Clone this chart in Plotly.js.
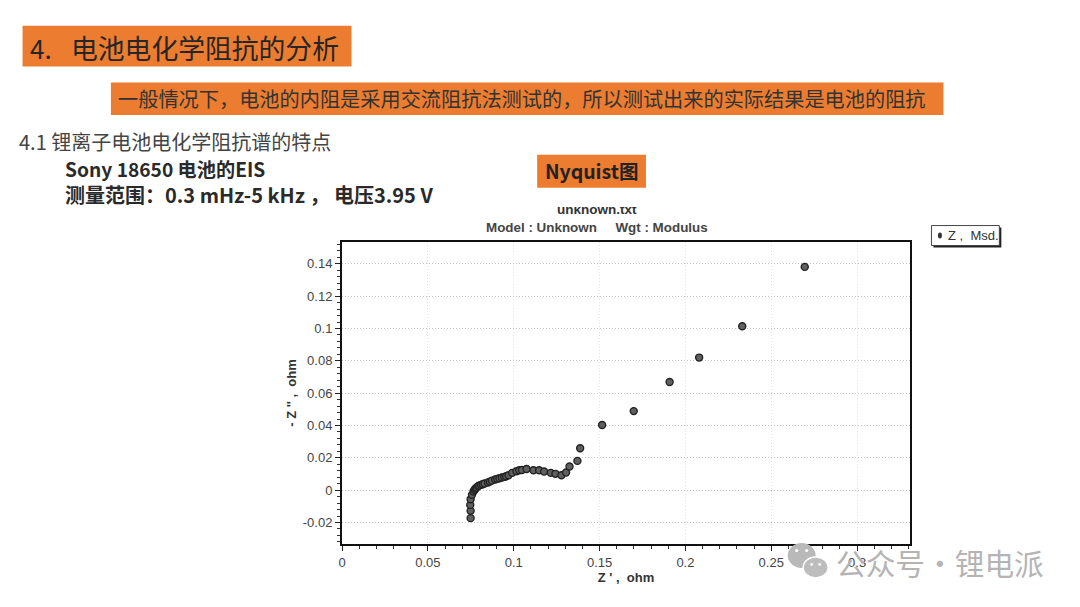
<!DOCTYPE html>
<html><head><meta charset="utf-8">
<script src="https://cdn.plot.ly/plotly-3.0.1.min.js"></script>
<style>html,body{margin:0;padding:0;background:#fff;overflow:hidden}#w{position:relative;width:1080px;height:607px}#c{width:1080px;height:607px}#crop{position:absolute;left:545px;top:198px;width:100px;height:9px;background:#fff}</style>
</head><body><div id="w"><div id="c"></div><div id="crop"></div></div>
<script>
const zReal = [0.0749,0.0749,0.0747,0.0749,0.0757,0.0766,0.0772,0.0778,0.0784,0.0792,0.0799,0.0809,0.0819,0.0830,0.0850,0.0861,0.0873,0.0892,0.0904,0.0917,0.0931,0.0945,0.0956,0.0970,0.0991,0.1016,0.1032,0.1048,0.1075,0.1115,0.1148,0.1177,0.1216,0.1243,0.1278,0.1305,0.1325,0.1371,0.1387,0.1515,0.1699,0.1908,0.2080,0.2331,0.2695];
const zImag = [-0.0173,-0.0128,-0.0091,-0.0056,-0.0029,-0.0008,0.0002,0.0010,0.0016,0.0025,0.0028,0.0033,0.0037,0.0041,0.0047,0.0053,0.0059,0.0066,0.0070,0.0074,0.0078,0.0082,0.0086,0.0092,0.0107,0.0117,0.0123,0.0125,0.0131,0.0123,0.0123,0.0115,0.0107,0.0101,0.0092,0.0109,0.0146,0.0181,0.0259,0.0403,0.0489,0.0669,0.0820,0.1014,0.1381];
const seriesName = 'Z ,  Msd.';
const xTickVals = [0,0.05,0.1,0.15,0.2,0.25,0.3];
const xTickText = ['0','0.05','0.1','0.15','0.2','0.25','0.3'];
const yTickVals = [-0.02,0,0.02,0.04,0.06,0.08,0.1,0.12,0.14];
const yTickText = ['-0.02','0','0.02','0.04','0.06','0.08','0.1','0.12','0.14'];

const W=1080,H=607,L=341.5,R=910.5,T=241.5,B=544.5;
const px=x=>(x-L)/(R-L), py=y=>(B-y)/(B-T);
const CJK='"Noto Sans CJK SC","Noto Sans",sans-serif', SANS='"Liberation Sans",Arial,sans-serif';
const ORANGE='#EB7C30';
const box=(x0,y0,x1,y1,fill,line)=>({type:'rect',xref:'paper',yref:'paper',layer:'below',x0:px(x0),x1:px(x1),y0:py(y0),y1:py(y1),fillcolor:fill,line:line||{width:0}});
const oval=(cx,cy,rx,ry,fill,line)=>({type:'circle',xref:'paper',yref:'paper',layer:'above',x0:px(cx-rx),x1:px(cx+rx),y0:py(cy-ry),y1:py(cy+ry),fillcolor:fill,line:line||{width:0}});
const label=(text,x,y,size,color,family,anchor)=>({text,xref:'paper',yref:'paper',x:px(x),y:py(y),xanchor:anchor||'left',yanchor:'middle',showarrow:false,font:{size,color,family},borderpad:0});

const trace={x:zReal,y:zImag,type:'scatter',mode:'markers',name:seriesName,cliponaxis:false,showlegend:false,
  marker:{size:7,color:'#606060',line:{color:'#222',width:1.4}}};
const layout={
  width:W,height:H,paper_bgcolor:'#fff',plot_bgcolor:'#fff',
  margin:{l:L,r:W-R,t:T,b:H-B,pad:0},
  showlegend:false,
  xaxis:{range:[0,0.3308],tickmode:'array',tickvals:xTickVals,ticktext:xTickText,ticks:'outside',ticklen:5,tickcolor:'#222',tickwidth:1,
    showline:true,linecolor:'#111',linewidth:2,mirror:true,zeroline:false,showgrid:true,gridcolor:'#e2e2e2',griddash:'1px,2px',gridwidth:1,
    minor:{dtick:0.01,ticks:'outside',ticklen:3,tickcolor:'#333',tickwidth:1,showgrid:false},
    tickfont:{family:SANS,size:13,color:'#444'},
    title:{text:"<b>Z ' ,  ohm</b>",font:{family:SANS,size:13,color:'#333'},standoff:2}},
  yaxis:{range:[-0.0333,0.1535],tickmode:'array',tickvals:yTickVals,ticktext:yTickText,ticks:'outside',ticklen:5,tickcolor:'#222',tickwidth:1,
    showline:true,linecolor:'#111',linewidth:2,mirror:true,zeroline:false,showgrid:true,gridcolor:'#c4c4c4',griddash:'1px,2px',gridwidth:1,
    minor:{dtick:0.004,ticks:'outside',ticklen:3,tickcolor:'#333',tickwidth:1,showgrid:false},
    tickfont:{family:SANS,size:13,color:'#444'},
    title:{text:"<b>- Z '' ,  ohm</b>",font:{family:SANS,size:13,color:'#333'},standoff:3}},
  shapes:[
    box(21.5,24.5,351,65.5,ORANGE),
    box(110,81.5,944,114,ORANGE),
    box(537,154,646,187,ORANGE),
    box(934,227,1002,247,'#222'),
    box(932,225,1000,245,'#fff',{color:'#444',width:1}),
    oval(940.5,235,2,3,'#333'),
    oval(802,556,14,12.5,'#b9b9b9'),
    oval(816,568,12.5,10.5,'#bdbdbd',{color:'#fff',width:1.5}),
    oval(797,551,1.6,1.6,'#fff'),
    oval(807,551,1.6,1.6,'#fff'),
    oval(812,565,1.4,1.4,'#fff'),
    oval(820,565,1.4,1.4,'#fff')
  ],
  annotations:[
    label('4.',28,46,26,'#262626',CJK),
    label('电池电化学阻抗的分析',69,46,26.8,'#262626',CJK),
    label('一般情况下\uFF0C电池的内阻是采用交流阻抗法测试的\uFF0C所以测试出来的实际结果是电池的阻抗',116,97.5,20.2,'#333',CJK),
    label('4.1 锂离子电池电化学阻抗谱的特点',17,140.5,20,'#444',CJK),
    label('<b>Sony 18650 电池的EIS</b>',63,168,19.2,'#2a2a2a',CJK),
    label('<b>测量范围\uFF1A0.3 mHz-5 kHz \uFF0C 电压3.95 V</b>',63,193.5,20,'#2a2a2a',CJK),
    label('<b>Nyquist图</b>',591.5,170,19.5,'#222',CJK,'center'),
    label('<b>unknown.txt</b>',597,209,13.5,'#333',SANS,'center'),
    label('<b>Model : Unknown     Wgt : Modulus</b>',597,226.5,13.4,'#444',SANS,'center'),
    label(seriesName,948,235,13,'#333',SANS),
    label('公众号·锂电派',835,563,29.7,'#b4b4b4',CJK)
  ]
};
Plotly.newPlot('c',[trace],layout,{displayModeBar:false,staticPlot:true});
</script></body></html>
